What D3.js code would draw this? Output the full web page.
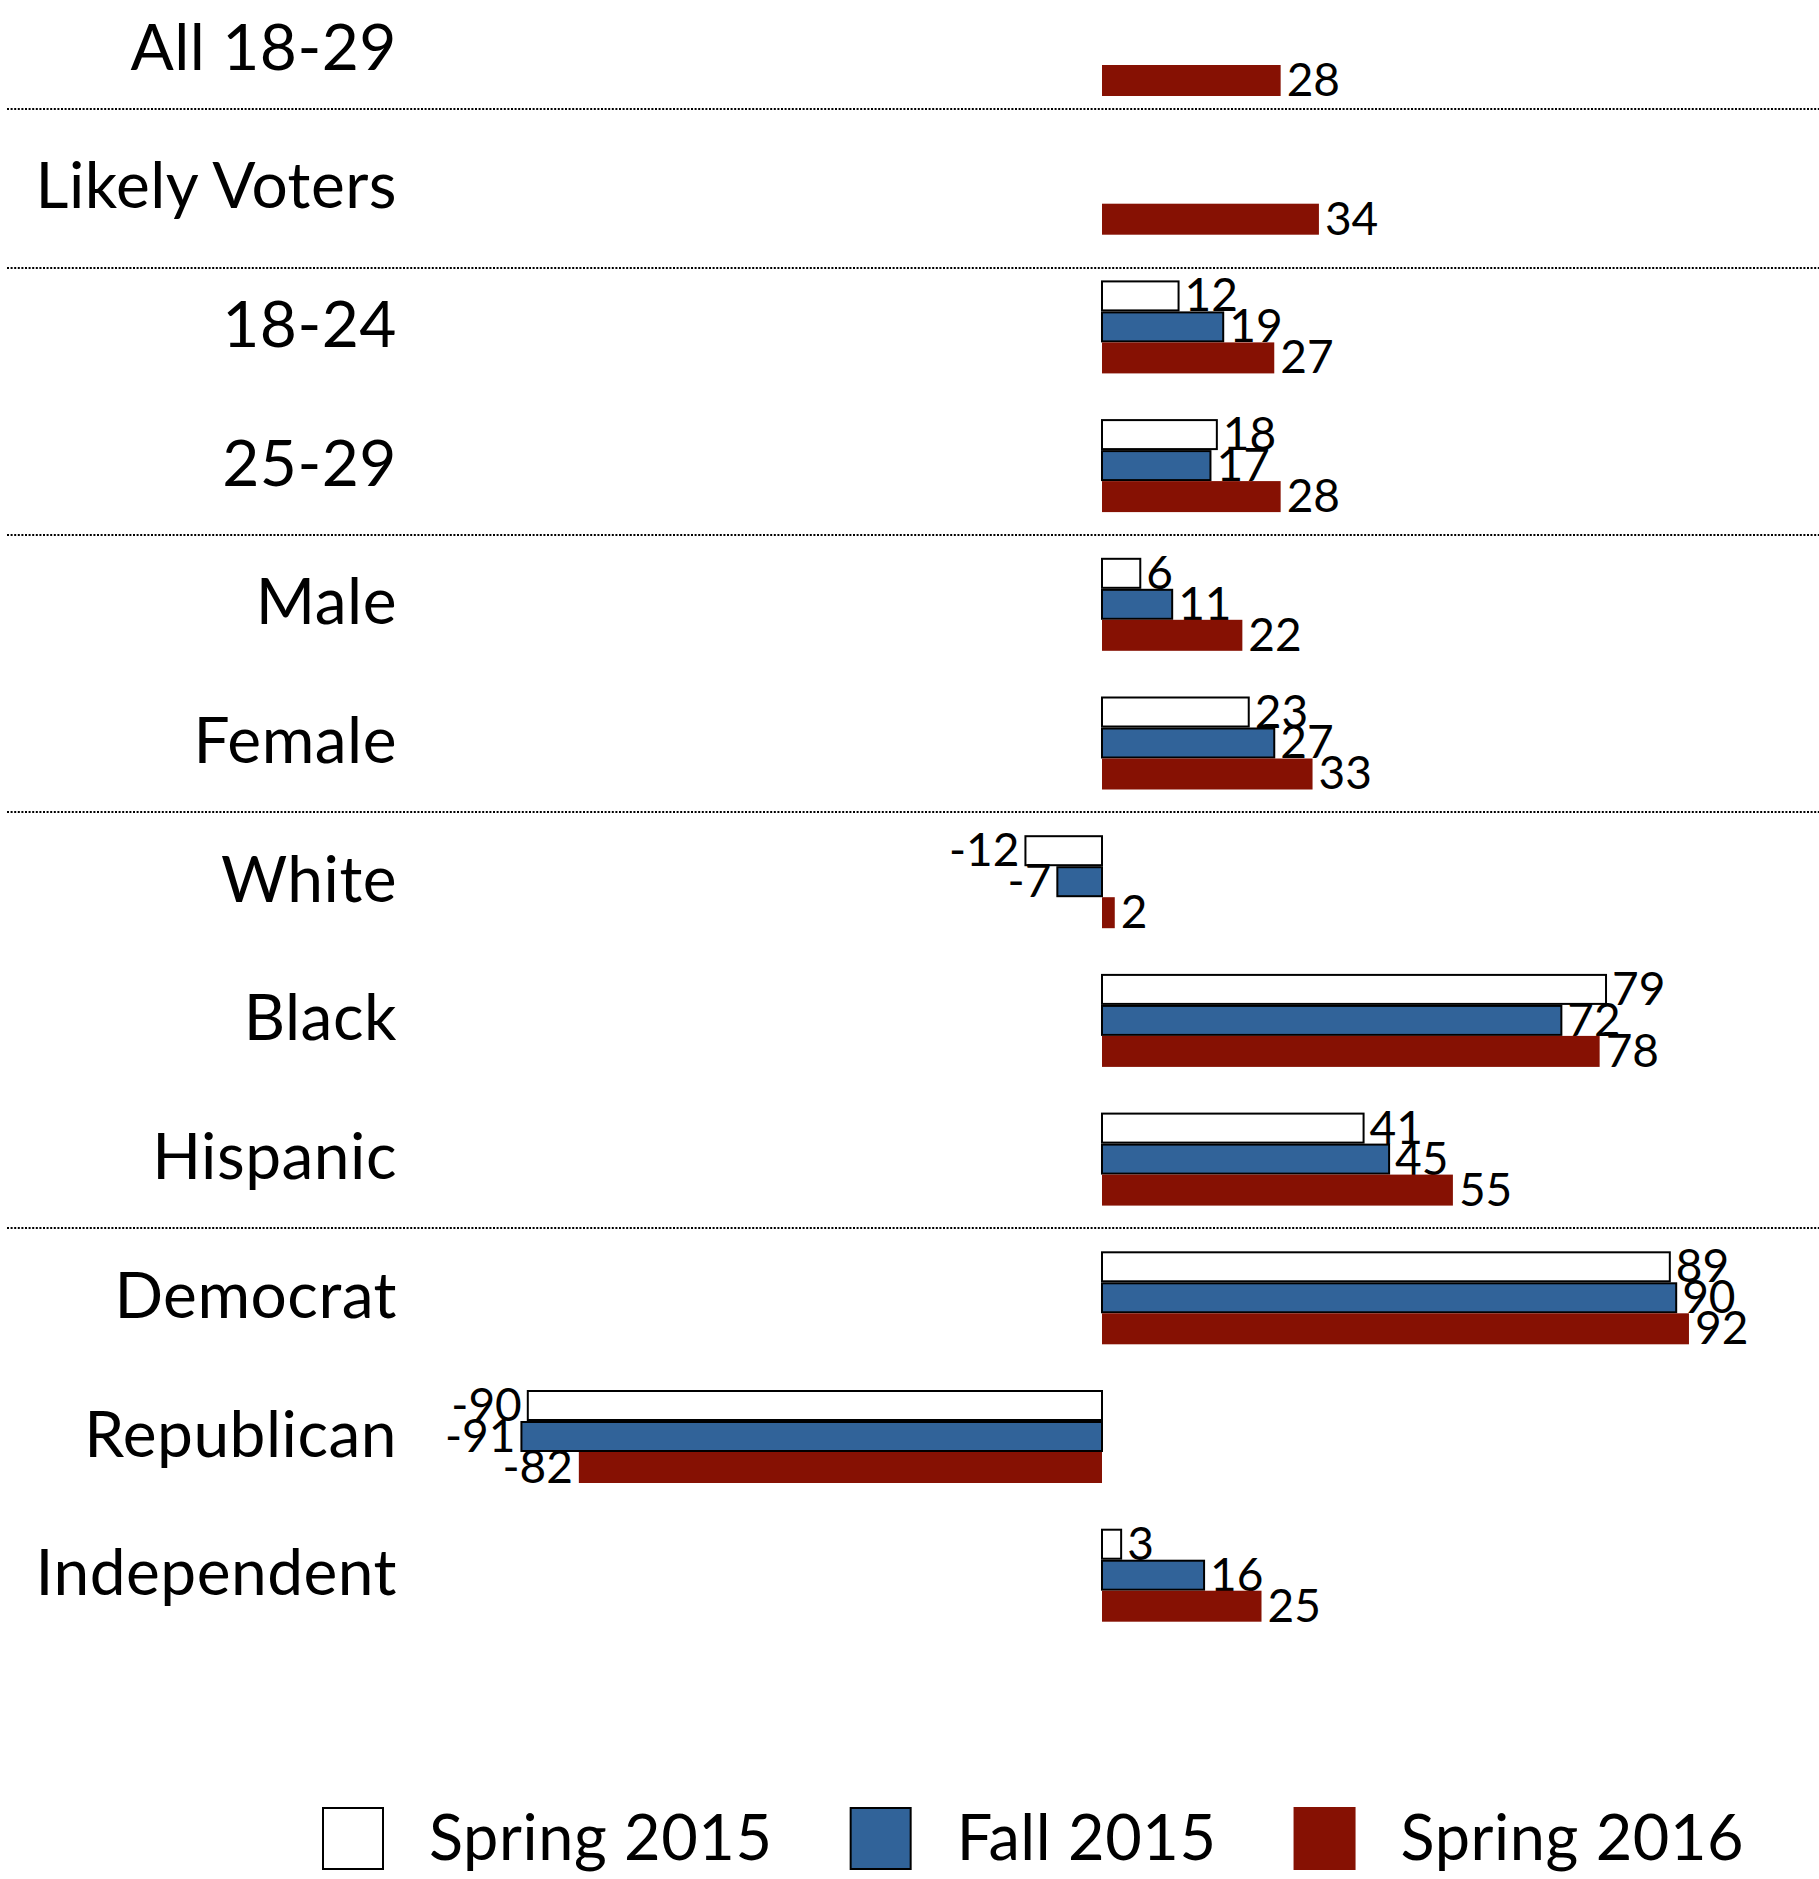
<!DOCTYPE html>
<html>
<head>
<meta charset="utf-8">
<script src="https://cdn.jsdelivr.net/npm/d3@7"></script>
<style>
  html, body { margin: 0; padding: 0; background: #fff; }
  svg { display: block; }
  text { font-family: Lato, "Noto Sans", sans-serif; fill: #000; }
</style>
</head>
<body>
<svg id="chart" width="1819" height="1879"></svg>
<script>
// ---- data ----
const categories = ["All 18-29", "Likely Voters", "18-24", "25-29", "Male", "Female",
  "White", "Black", "Hispanic", "Democrat", "Republican", "Independent"];
const seriesNames = ["Spring 2015", "Fall 2015", "Spring 2016"];
const spring2015 = [null, null, 12, 18, 6, 23, -12, 79, 41, 89, -90, 3];
const fall2015   = [null, null, 19, 17, 11, 27, -7, 72, 45, 90, -91, 16];
const spring2016 = [28, 34, 27, 28, 22, 33, 2, 78, 55, 92, -82, 25];
const separatorsAfter = ["All 18-29", "Likely Voters", "25-29", "Female", "Hispanic"];

// ---- styles ----
const fills = ["#ffffff", "#316399", "#861103"];
const strokes = ["#000", "#000", "none"];
const seriesValues = [spring2015, fall2015, spring2016];

const svg = d3.select("#chart");
const W = 1819;

const x = d3.scaleLinear().domain([-100, 100]).range([464, 1740]);
const y = d3.scaleBand().domain(categories).range([-19.85, 1644.55])
  .paddingInner(0.3295).paddingOuter(0.16475);
const ySub = d3.scaleBand().domain(seriesNames).range([0, y.bandwidth()]);

// separators
const sepNudge = {"All 18-29": -10, "Likely Voters": 10};
separatorsAfter.forEach(c => {
  const yy = y(c) + y.bandwidth() + (y.step() - y.bandwidth()) / 2 + (sepNudge[c] || 0);
  svg.append("line")
    .attr("x1", 7).attr("x2", W)
    .attr("y1", Math.round(yy)).attr("y2", Math.round(yy))
    .attr("stroke", "#000").attr("stroke-width", 2)
    .attr("stroke-dasharray", "2,1.6");
});

// category labels
svg.append("g").selectAll("text").data(categories).join("text")
  .attr("x", 397)
  .attr("y", d => y(d) + y.bandwidth() / 2 + 20)
  .attr("text-anchor", "end")
  .attr("font-size", 64)
  .attr("letter-spacing", 0.5)
  .text(d => d);

// bars + value labels, series by series
const x0 = x(0);
seriesNames.forEach((s, si) => {
  const data = categories.map((c, i) => ({c, v: seriesValues[si][i]})).filter(d => d.v !== null);
  const g = svg.append("g");
  const stroked = strokes[si] !== "none";
  g.selectAll("rect").data(data).join("rect")
    .attr("x", d => Math.min(x0, x(d.v)))
    .attr("width", d => Math.abs(x(d.v) - x0))
    .attr("y", d => y(d.c) + ySub(s) + (stroked ? 1 : 0))
    .attr("height", ySub.bandwidth() - (stroked ? 2 : 0))
    .attr("fill", fills[si])
    .attr("stroke", strokes[si])
    .attr("stroke-width", stroked ? 2 : 0);
  g.selectAll("text").data(data).join("text")
    .attr("x", d => d.v >= 0 ? x(d.v) + 6 : x(d.v) - 6)
    .attr("y", d => y(d.c) + ySub(s) + ySub.bandwidth())
    .attr("text-anchor", d => d.v >= 0 ? "start" : "end")
    .attr("font-size", 46)
    .text(d => d.v);
});

// legend
const legend = svg.append("g");
let lx = 322;
seriesNames.forEach((s, si) => {
  const stroked = strokes[si] !== "none";
  legend.append("rect")
    .attr("x", lx + (stroked ? 1 : 0)).attr("y", 1807 + (stroked ? 1 : 0))
    .attr("width", 62 - (stroked ? 2 : 0)).attr("height", 63 - (stroked ? 2 : 0))
    .attr("fill", fills[si]).attr("stroke", strokes[si])
    .attr("stroke-width", stroked ? 2 : 0);
  const t = legend.append("text")
    .attr("x", lx + 62 + 45).attr("y", 1860)
    .attr("font-size", 63).attr("letter-spacing", 0.6).text(s);
  lx = lx + 62 + 45 + t.node().getComputedTextLength() + 77;
});
</script>
</body>
</html>
